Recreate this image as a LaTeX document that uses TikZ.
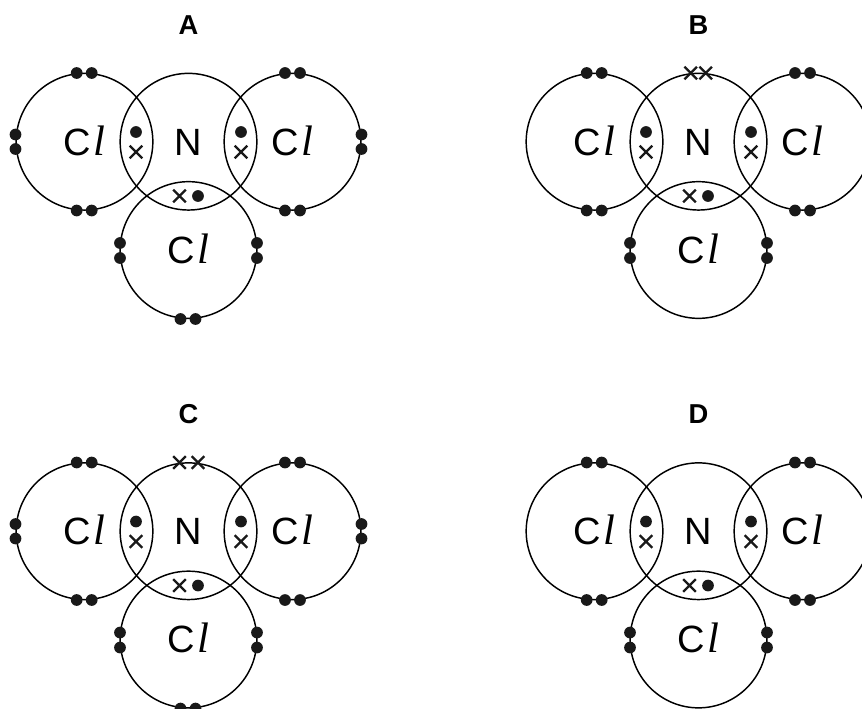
\documentclass[tikz,border=0pt]{standalone}
\usepackage{fontspec}
\setmainfont{Liberation Sans}
\newfontfamily\elfont{Liberation Serif}
\usetikzlibrary{shapes.misc}
\newcommand{\Cl}{C\hspace{1.5pt}{\elfont\itshape\fontsize{32}{34}\selectfont l}}
\tikzset{
	x=0.75pt, % one unit is one pixel of the reference
	y=-0.75pt, % counted from the top, as in the reference
	atom/.style={circle, draw, line width=1.1pt, minimum size=102.5pt, inner sep=0pt, text height=20pt, text depth=0pt, font=\fontsize{28.5}{30}\selectfont}, % sets the properties for each atom
	pair/.style={circle, fill=black!90, inner sep=0pt, minimum size=8.8pt}, % an electron drawn as a dot
	cross/.style={cross out, draw=black!90, line width=1.8pt, inner sep=0pt, minimum size=7.6pt}, % an electron drawn as a cross
	letter/.style={font=\fontsize{20.5}{22}\selectfont\bfseries, inner sep=0pt}, % the letter above each diagram
}
% the three bonds and the outer dots that all four diagrams have
\newcommand{\molecule}[2]{
	\node[letter] (#1title) at (188.5,25) {#2};
	\node[atom] (#1n) at (188.5,141.7) {N};
	\node[atom] (#1left) at (84.5,141.7) {\Cl};
	\node[atom] (#1right) at (292.5,141.7) {\Cl};
	\node[atom] (#1low) at (188.5,250) {\Cl};
	\foreach \x/\y [count=\i] in {76.7/73, 91.7/73, 76.7/210.5, 91.7/210.5, 285/73, 300/73, 285/210.5, 300/210.5, 120/243, 120/258, 257/243, 257/258, 136/132, 241/132, 198/196}
		\node[pair] (#1dot\i) at (\x,\y) {};
	\foreach \x/\y [count=\i] in {136/152, 241/152, 179.5/196}
		\node[cross] (#1bond\i) at (\x,\y) {};
}
% dots on the far sides of the chlorine atoms
\newcommand{\outerdots}[1]{
	\foreach \x/\y [count=\i] in {15.5/134.5, 15.5/149, 361.5/134.5, 361.5/149, 180.5/319, 195.5/319}
		\node[pair] (#1outer\i) at (\x,\y) {};
}
% the lone pair on top of the nitrogen
\newcommand{\toppair}[3]{
	\foreach \x [count=\i] in {#2,#3}
		\node[cross] (#1top\i) at (\x,73) {};
}
\begin{document}
\begin{tikzpicture}
	\useasboundingbox (0,0) rectangle (862,708);
	\clip (0,0) rectangle (862,708);
	\begin{scope}
		\molecule{a}{A}
		\outerdots{a}
	\end{scope}
	\begin{scope}[shift={(510,0)}]
		\molecule{b}{B}
		\toppair{b}{180.7}{195.7}
	\end{scope}
	\begin{scope}[shift={(0,389.5)}]
		\molecule{c}{C}
		\outerdots{c}
		\toppair{c}{179.5}{198}
	\end{scope}
	\begin{scope}[shift={(510,389.5)}]
		\molecule{d}{D}
	\end{scope}
\end{tikzpicture}
\end{document}
